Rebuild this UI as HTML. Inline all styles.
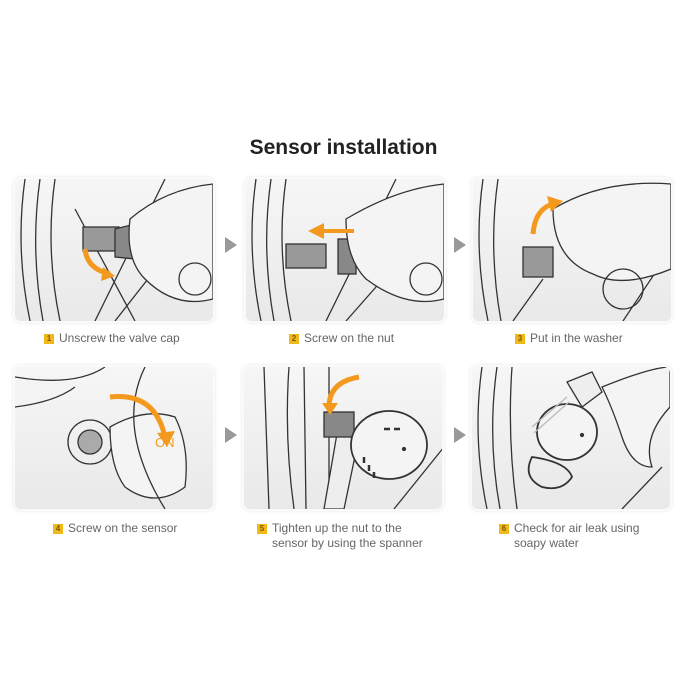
<!DOCTYPE html>
<html><head><style>
body{margin:0;width:687px;height:684px;background:#fff;position:relative;font-family:"Liberation Sans",sans-serif;overflow:hidden}
.t{position:absolute;left:0;width:687px;top:136px;text-align:center;font-weight:bold;font-size:21px;color:#222}
.p{position:absolute;width:198px;height:142px;border-radius:6px;background:linear-gradient(#f6f6f6,#e9e9e9);box-shadow:0 0 0 2px #fafafa,0 0 3px 2px #e6e6e6;overflow:hidden}
.p svg{position:absolute;left:0;top:0}
.c{position:absolute;font-size:12px;color:#666;line-height:15px}
.n{display:inline-block;width:10px;height:10px;background:#f1b81a;color:#7a5a00;font-size:8px;line-height:10px;text-align:center;font-weight:bold;margin-right:5px;vertical-align:1px}
.a{position:absolute;width:0;height:0;border-top:8px solid transparent;border-bottom:8px solid transparent;border-left:12px solid #999}
</style></head><body>
<div class="t">Sensor installation</div>

<div class="p" style="left:15px;top:179px"><svg width="198" height="142" fill="none" stroke="#333" stroke-width="1.3">
<path d="M10 0 Q0 70 15 142M25 0 Q15 70 28 142M40 0 Q30 70 45 142"/><path d="M60 30 L120 142M150 0 L80 142M100 142 L180 40"/>
<rect x="68" y="48" width="36" height="24" fill="#999"/><path d="M100 50 L120 45 L120 80 L100 78Z" fill="#888"/>
<path d="M115 40 Q150 10 198 5 L198 120 Q160 130 130 100 Q110 80 115 40Z" fill="#f4f4f4"/>
<circle cx="180" cy="100" r="16"/><path d="M70 70 Q72 90 95 95" stroke="#f39a1e" stroke-width="5"/><path d="M88 88 L100 97 L86 102Z" fill="#f39a1e" stroke="none"/>
</svg></div>
<div class="a" style="left:225px;top:237px"></div>

<div class="p" style="left:246px;top:179px"><svg width="198" height="142" fill="none" stroke="#333" stroke-width="1.3">
<path d="M10 0 Q0 70 15 142M25 0 Q15 70 28 142M40 0 Q30 70 45 142"/><path d="M150 0 L80 142M100 142 L190 40"/>
<rect x="40" y="65" width="40" height="24" fill="#999"/><rect x="92" y="60" width="18" height="35" fill="#888"/>
<path d="M100 40 Q150 10 198 5 L198 120 Q160 130 120 100 Q100 80 100 40Z" fill="#f4f4f4"/>
<circle cx="180" cy="100" r="16"/><path d="M108 52 L75 52" stroke="#f39a1e" stroke-width="4"/><path d="M78 44 L62 52 L78 60Z" fill="#f39a1e" stroke="none"/>
</svg></div>
<div class="a" style="left:454px;top:237px"></div>

<div class="p" style="left:473px;top:179px"><svg width="198" height="142" fill="none" stroke="#333" stroke-width="1.3">
<path d="M10 0 Q0 70 15 142M25 0 Q15 70 28 142"/><path d="M150 142 L198 70M40 142 L70 100"/>
<rect x="50" y="68" width="30" height="30" fill="#999"/>
<path d="M80 30 Q130 0 198 5 L198 90 Q150 110 120 95 Q80 80 80 30Z" fill="#f4f4f4"/>
<circle cx="150" cy="110" r="20"/><path d="M60 55 Q62 30 80 25" stroke="#f39a1e" stroke-width="5"/><path d="M74 17 L90 22 L78 33Z" fill="#f39a1e" stroke="none"/>
</svg></div>

<div class="c" style="left:44px;top:331px"><span class="n">1</span>Unscrew the valve cap</div>
<div class="c" style="left:289px;top:331px"><span class="n">2</span>Screw on the nut</div>
<div class="c" style="left:515px;top:331px"><span class="n">3</span>Put in the washer</div>

<div class="p" style="left:15px;top:367px"><svg width="198" height="142" fill="none" stroke="#333" stroke-width="1.3">
<path d="M0 10 Q60 20 90 0M0 40 Q40 35 60 20"/><circle cx="75" cy="75" r="22"/><circle cx="75" cy="75" r="12" fill="#aaa"/>
<path d="M95 60 Q130 40 160 50 Q175 80 170 120 Q140 142 110 120 Q95 100 95 60Z" fill="#f4f4f4"/><path d="M130 0 Q100 60 150 142"/>
<path d="M95 30 Q140 25 150 70" stroke="#f39a1e" stroke-width="5"/><path d="M142 66 L152 80 L160 64Z" fill="#f39a1e" stroke="none"/>
<text x="140" y="80" fill="#f39a1e" stroke="none" font-size="13" font-family="Liberation Sans">ON</text>
</svg></div>
<div class="a" style="left:225px;top:427px"></div>

<div class="p" style="left:244px;top:367px"><svg width="198" height="142" fill="none" stroke="#333" stroke-width="1.3">
<path d="M20 0 L25 142M45 0 Q40 70 50 142M60 0 L62 142M85 0 L85 142"/><path d="M200 80 L150 142"/>
<path d="M95 55 L80 142 L100 142 L115 70Z" fill="#eee"/><rect x="80" y="45" width="30" height="25" fill="#888"/>
<ellipse cx="145" cy="78" rx="38" ry="34" fill="#f4f4f4" stroke-width="1.8"/><circle cx="160" cy="82" r="1.5" fill="#333"/>
<path d="M120 90 l0 6M125 98 l0 6M130 105 l0 6M140 62 l6 0M150 62 l6 0" stroke-width="2.5"/>
<path d="M115 10 Q85 15 85 40" stroke="#f39a1e" stroke-width="5"/><path d="M78 36 L86 48 L94 36Z" fill="#f39a1e" stroke="none"/>
</svg></div>
<div class="a" style="left:454px;top:427px"></div>

<div class="p" style="left:472px;top:367px"><svg width="198" height="142" fill="none" stroke="#333" stroke-width="1.3">
<path d="M10 0 Q0 70 15 142M25 0 Q15 70 28 142M40 0 Q35 70 45 142"/><path d="M150 142 L190 100"/>
<path d="M95 15 L120 5 L130 25 L110 40Z" fill="#eee"/><path d="M130 20 Q180 0 198 0 L198 40 Q170 70 180 100 Q160 100 150 70 Q140 40 130 20Z" fill="#f4f4f4"/>
<path d="M60 90 Q50 110 70 120 Q90 125 100 110 Q95 95 60 90Z" stroke-width="1.8"/>
<ellipse cx="95" cy="65" rx="30" ry="28" fill="#f4f4f4" stroke-width="1.8"/><circle cx="110" cy="68" r="1.5" fill="#333"/>
<path d="M60 60 L95 30M62 66 L97 35" stroke="#bbb"/>
</svg></div>

<div class="c" style="left:53px;top:521px"><span class="n">4</span>Screw on the sensor</div>
<div class="c" style="left:257px;top:521px"><span class="n">5</span>Tighten up the nut to the<br><span style="padding-left:15px">sensor by using the spanner</span></div>
<div class="c" style="left:499px;top:521px"><span class="n">6</span>Check for air leak using<br><span style="padding-left:15px">soapy water</span></div>
</body></html>
